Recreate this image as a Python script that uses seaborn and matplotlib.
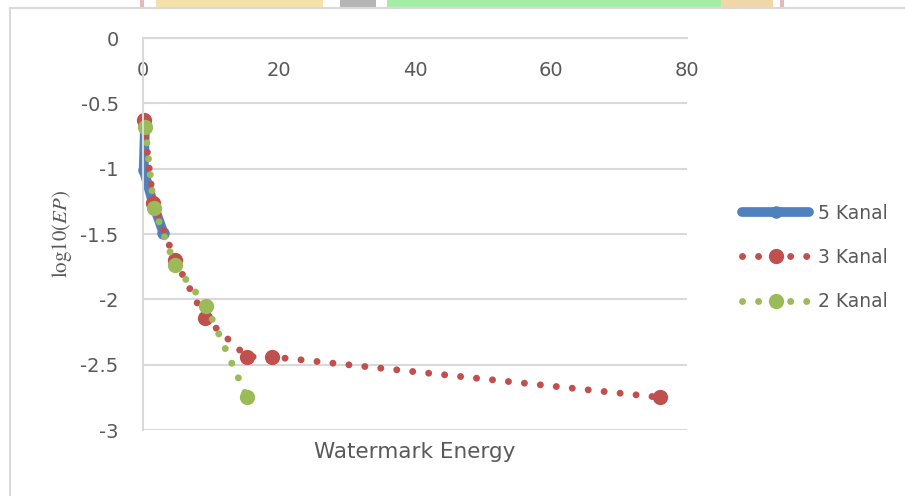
import matplotlib
matplotlib.use("Agg")
import matplotlib.pyplot as plt
from matplotlib.patches import Rectangle
from matplotlib.lines import Line2D
import seaborn as sns

# data
energy_5 = [0.3, 0.1, 1.5, 3.0]
ep_5 = [-0.66, -1.01, -1.27, -1.49]

energy_3 = [0.1, 1.5, 4.7, 9.1, 15.3, 19.0, 76.0]
ep_3 = [-0.63, -1.26, -1.70, -2.14, -2.44, -2.44, -2.75]

energy_2 = [0.3, 1.6, 4.7, 9.3, 15.3]
ep_2 = [-0.68, -1.30, -1.74, -2.05, -2.75]

x_ticks = [0, 20, 40, 60, 80]
y_ticks = [-3, -2.5, -2, -1.5, -1, -0.5, 0]
y_labels = ["-3", "-2.5", "-2", "-1.5", "-1", "-0.5", "0"]

BLUE = "#4F81BD"
RED = "#C0504D"
GREEN = "#9BBB59"
GRID = "#D9D9D9"
TXT = "#595959"

sns.set_style("white")
plt.rcParams["font.family"] = ["DejaVu Sans"]
plt.rcParams["mathtext.fontset"] = "stix"

fig = plt.figure(figsize=(9.05, 4.96), dpi=100)
ax = fig.add_axes([143 / 905, 66 / 496, 544 / 905, 392 / 496])

dotted = (0, (0.01, 2.3))

sns.lineplot(x=energy_5, y=ep_5, ax=ax, sort=False, color=BLUE, lw=7,
             marker="o", markersize=9, markeredgewidth=0,
             solid_capstyle="round", clip_on=False, label="5 Kanal")
sns.lineplot(x=energy_3, y=ep_3, ax=ax, sort=False, color=RED, lw=5,
             linestyle=dotted, dash_capstyle="round", clip_on=False,
             marker="o", markersize=11, markeredgewidth=0, label="3 Kanal")
sns.lineplot(x=energy_2, y=ep_2, ax=ax, sort=False, color=GREEN, lw=5,
             linestyle=dotted, dash_capstyle="round", clip_on=False,
             marker="o", markersize=11, markeredgewidth=0, label="2 Kanal")

ax.set_xlim(0, 80)
ax.set_ylim(-3, 0)
ax.set_xticks(x_ticks)
ax.set_xticklabels([str(v) for v in x_ticks])
ax.set_yticks(y_ticks)
ax.set_yticklabels(y_labels)

ax.grid(axis="y", color=GRID, lw=1.5)
ax.grid(axis="x", visible=False)
for side in ["right", "bottom"]:
    ax.spines[side].set_visible(False)
for side in ["left", "top"]:
    ax.spines[side].set_color(GRID)
    ax.spines[side].set_linewidth(1.5)
ax.set_axisbelow(True)

ax.tick_params(axis="x", bottom=False, labelbottom=False, top=False, labeltop=True,
               pad=-34, labelsize=14, labelcolor=TXT)
ax.tick_params(axis="y", left=False, pad=14, labelsize=14, labelcolor=TXT)

ax.set_xlabel("Watermark Energy", fontsize=15.5, color=TXT)
ax.xaxis.set_label_position("bottom")
ax.xaxis.labelpad = 9
ax.set_ylabel(r"$\mathrm{log10}(EP)$", fontsize=15, color=TXT, labelpad=5)

handles, labels = ax.get_legend_handles_labels()
ax.legend(handles, labels, loc="center left", bbox_to_anchor=(1.07, 0.44),
          frameon=False, fontsize=13.5, labelcolor=TXT, handlelength=3.6,
          handletextpad=0.45, labelspacing=1.35)

# chart area border and the faint background picture at the top edge
fig.add_artist(Line2D([10 / 905, 10 / 905], [0, 488 / 496], color=GRID, lw=1.5))
fig.add_artist(Line2D([10 / 905, 1], [488 / 496, 488 / 496], color=GRID, lw=1.5))
for x0, x1, c in [(140, 144, "#E3B9B9"), (156, 323, "#F5E2A8"), (340, 376, "#B5B5B5"),
                  (387, 721, "#A5EDA5"), (721, 773, "#F1D7A8"), (780, 784, "#E3B9B9")]:
    fig.add_artist(Rectangle((x0 / 905, 488 / 496), (x1 - x0) / 905, 8 / 496,
                             transform=fig.transFigure, color=c, lw=0))

fig.savefig("out.png", dpi=100)
